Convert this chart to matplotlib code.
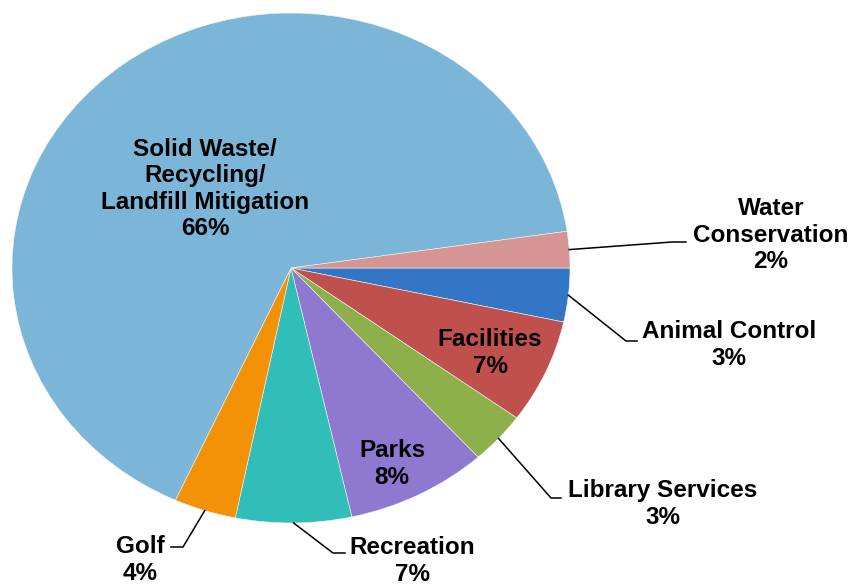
import numpy as np
import matplotlib.pyplot as plt

# slices clockwise from 3 o'clock
categories = ["Animal Control", "Facilities", "Library Services", "Parks",
              "Recreation", "Golf", "Solid Waste/\nRecycling/\nLandfill Mitigation",
              "Water\nConservation"]
shares = [3.4, 6.6, 3.3, 8.2, 6.7, 3.6, 65.9, 2.3]
colors = ["#3476C6", "#C0504D", "#8DB04A", "#8E78D0",
          "#31BEB9", "#F39207", "#7BB6D9", "#D59593"]

W, H = 852, 584
fig = plt.figure(figsize=(W / 100, H / 100), dpi=100)
# ellipse spans x 12..570, y 13..523 in pixels
ax = fig.add_axes([12 / W, (H - 523) / H, 558 / W, 510 / H])
wedges, _ = ax.pie(shares, colors=colors, startangle=0, counterclock=False,
                   radius=1, wedgeprops=dict(linewidth=0.4, edgecolor="#f4f4f4"))
ax.set_aspect("auto")
ax.set_xlim(-1, 1)
ax.set_ylim(-1, 1)
ax.axis("off")

font = dict(family="Liberation Sans", fontweight="bold", fontsize=17.5,
            linespacing=1.18, color="black")


def px(x, y):
    # pixel position -> data coords of the pie axes
    return (x - 291) / 279, (268 - y) / 255


def mid(i):
    w = wedges[i]
    a = np.deg2rad((w.theta1 + w.theta2) / 2)
    return np.cos(a), np.sin(a)


labels = [f"{c}\n{round(s):.0f}%" for c, s in zip(categories, shares)]

# inside labels: (index, pixel centre)
inside = {1: (490, 353), 3: (392, 464), 6: (205, 189)}
for i, (x, y) in inside.items():
    ax.text(*px(x, y), labels[i], ha="center", va="center", **font)

# outside labels: index -> (elbow, end of line, text centre)
outside = {
    7: ((672, 242), (686, 242), (771, 235)),
    0: ((626, 341), (637, 341), (729, 345)),
    2: ((551, 498), (561, 498), (663, 504)),
    4: ((333, 553), (345, 553), (412, 561)),
    5: ((183, 547), (171, 547), (140, 560)),
}
for i, (elb, end, txt) in outside.items():
    sx, sy = mid(i)
    ex, ey = px(*elb)
    tx, ty = px(*end)
    ax.plot([sx, ex, tx], [sy, ey, ty], color="black", lw=1.1, clip_on=False)
    ax.text(*px(*txt), labels[i], ha="center", va="center", **font)

fig.savefig("out.png", dpi=100)
